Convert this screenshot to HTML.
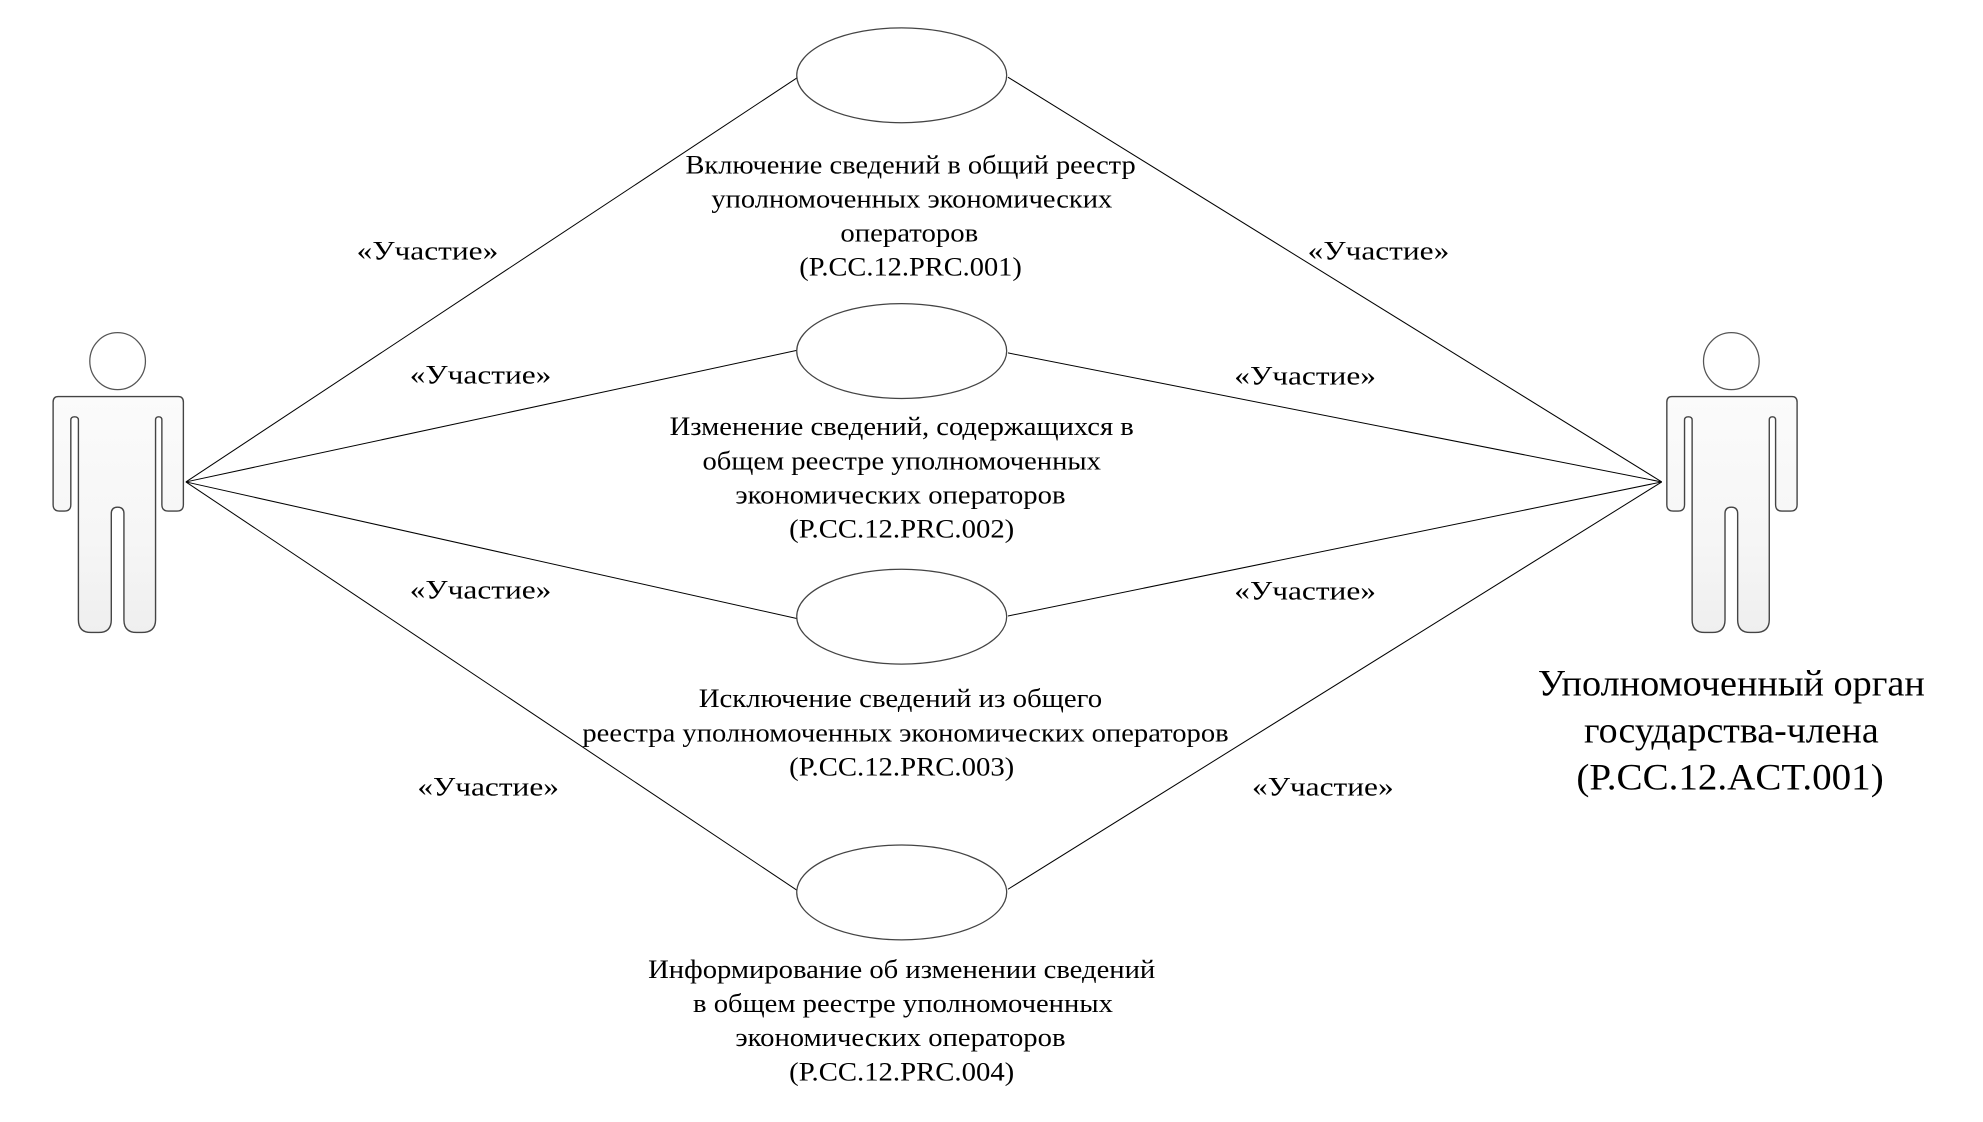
<!DOCTYPE html>
<html><head><meta charset="utf-8"><style>
html,body{margin:0;padding:0;background:#fff;width:1983px;height:1122px;overflow:hidden}
svg{display:block}
text{font-family:"Liberation Serif","DejaVu Serif",serif;fill:#000}
</style></head><body>
<svg width="1983" height="1122" viewBox="0 0 1568 887" preserveAspectRatio="none" xmlns="http://www.w3.org/2000/svg">
<defs>
<linearGradient id="g" x1="0" y1="0" x2="0" y2="1">
<stop offset="0" stop-color="#fbfbfb"/><stop offset="0.6" stop-color="#f6f6f6"/><stop offset="1" stop-color="#efefef"/>
</linearGradient>
<g id="actor">
<ellipse cx="93" cy="285.5" rx="22" ry="22.5" fill="#fff" stroke="#555" stroke-width="1"/>
<path d="M46,313.5 H141 Q145,313.5 145,318 V399 Q145,404 140,404 H133 Q128,404 128,399 V332 Q128,329.5 125.5,329.5 Q123,329.5 123,332 V490 Q123,500 112,500 H108 Q98,500 98,490 V406 Q98,401 93,401 Q88,401 88,406 V490 Q88,500 78,500 H72 Q62,500 62,490 V332 Q62,329.5 59,329.5 Q56,329.5 56,332 V399 Q56,404 51,404 H47 Q42,404 42,399 V318 Q42,313.5 46,313.5 Z" fill="url(#g)" stroke="#444" stroke-width="1.1"/>
</g>
</defs>
<use href="#actor"/>
<use href="#actor" transform="translate(1276,0)"/>
<g stroke="#000" stroke-width="0.8" fill="none">
<line x1="147" y1="381" x2="631" y2="61"/>
<line x1="147" y1="381" x2="630" y2="277"/>
<line x1="147" y1="381" x2="630" y2="489"/>
<line x1="147" y1="381" x2="632" y2="705"/>
<line x1="1314" y1="381" x2="797" y2="61"/>
<line x1="1314" y1="381" x2="797" y2="279"/>
<line x1="1314" y1="381" x2="797" y2="487"/>
<line x1="1314" y1="381" x2="797" y2="703"/>
</g>
<g fill="#fff" stroke="#444" stroke-width="1">
<ellipse cx="713" cy="59.5" rx="83" ry="37.5"/>
<ellipse cx="713" cy="277.5" rx="83" ry="37.5"/>
<ellipse cx="713" cy="487.5" rx="83" ry="37.5"/>
<ellipse cx="713" cy="705.5" rx="83" ry="37.5"/>
</g>
<g font-size="21" text-anchor="middle">
<text x="338" y="205" textLength="112" lengthAdjust="spacingAndGlyphs">«Участие»</text>
<text x="380" y="303" textLength="112" lengthAdjust="spacingAndGlyphs">«Участие»</text>
<text x="380" y="473" textLength="112" lengthAdjust="spacingAndGlyphs">«Участие»</text>
<text x="386" y="629" textLength="112" lengthAdjust="spacingAndGlyphs">«Участие»</text>
<text x="1090" y="205" textLength="112" lengthAdjust="spacingAndGlyphs">«Участие»</text>
<text x="1032" y="304" textLength="112" lengthAdjust="spacingAndGlyphs">«Участие»</text>
<text x="1032" y="474" textLength="112" lengthAdjust="spacingAndGlyphs">«Участие»</text>
<text x="1046" y="629" textLength="112" lengthAdjust="spacingAndGlyphs">«Участие»</text>

<text x="720" y="137" textLength="356" lengthAdjust="spacingAndGlyphs">Включение сведений в общий реестр</text>
<text x="721" y="164" textLength="317" lengthAdjust="spacingAndGlyphs">уполномоченных экономических</text>
<text x="719" y="191" textLength="109" lengthAdjust="spacingAndGlyphs">операторов</text>
<text x="720" y="218" textLength="176" lengthAdjust="spacingAndGlyphs">(P.CC.12.PRC.001)</text>

<text x="713" y="344" textLength="367" lengthAdjust="spacingAndGlyphs">Изменение сведений, содержащихся в</text>
<text x="713" y="371" textLength="315" lengthAdjust="spacingAndGlyphs">общем реестре уполномоченных</text>
<text x="712" y="398" textLength="261" lengthAdjust="spacingAndGlyphs">экономических операторов</text>
<text x="713" y="425" textLength="178" lengthAdjust="spacingAndGlyphs">(P.CC.12.PRC.002)</text>

<text x="712" y="559" textLength="319" lengthAdjust="spacingAndGlyphs">Исключение сведений из общего</text>
<text x="716" y="586" textLength="511" lengthAdjust="spacingAndGlyphs">реестра уполномоченных экономических операторов</text>
<text x="713" y="613" textLength="178" lengthAdjust="spacingAndGlyphs">(P.CC.12.PRC.003)</text>

<text x="713" y="773" textLength="401" lengthAdjust="spacingAndGlyphs">Информирование об изменении сведений</text>
<text x="714" y="800" textLength="332" lengthAdjust="spacingAndGlyphs">в общем реестре уполномоченных</text>
<text x="712" y="827" textLength="261" lengthAdjust="spacingAndGlyphs">экономических операторов</text>
<text x="713" y="854" textLength="178" lengthAdjust="spacingAndGlyphs">(P.CC.12.PRC.004)</text>
</g>
<g font-size="29" text-anchor="middle">
<text x="1369" y="550" textLength="306" lengthAdjust="spacingAndGlyphs">Уполномоченный орган</text>
<text x="1369" y="587" textLength="233" lengthAdjust="spacingAndGlyphs">государства-члена</text>
<text x="1368" y="624" textLength="243" lengthAdjust="spacingAndGlyphs">(P.CC.12.ACT.001)</text>
</g>
</svg>
</body></html>
